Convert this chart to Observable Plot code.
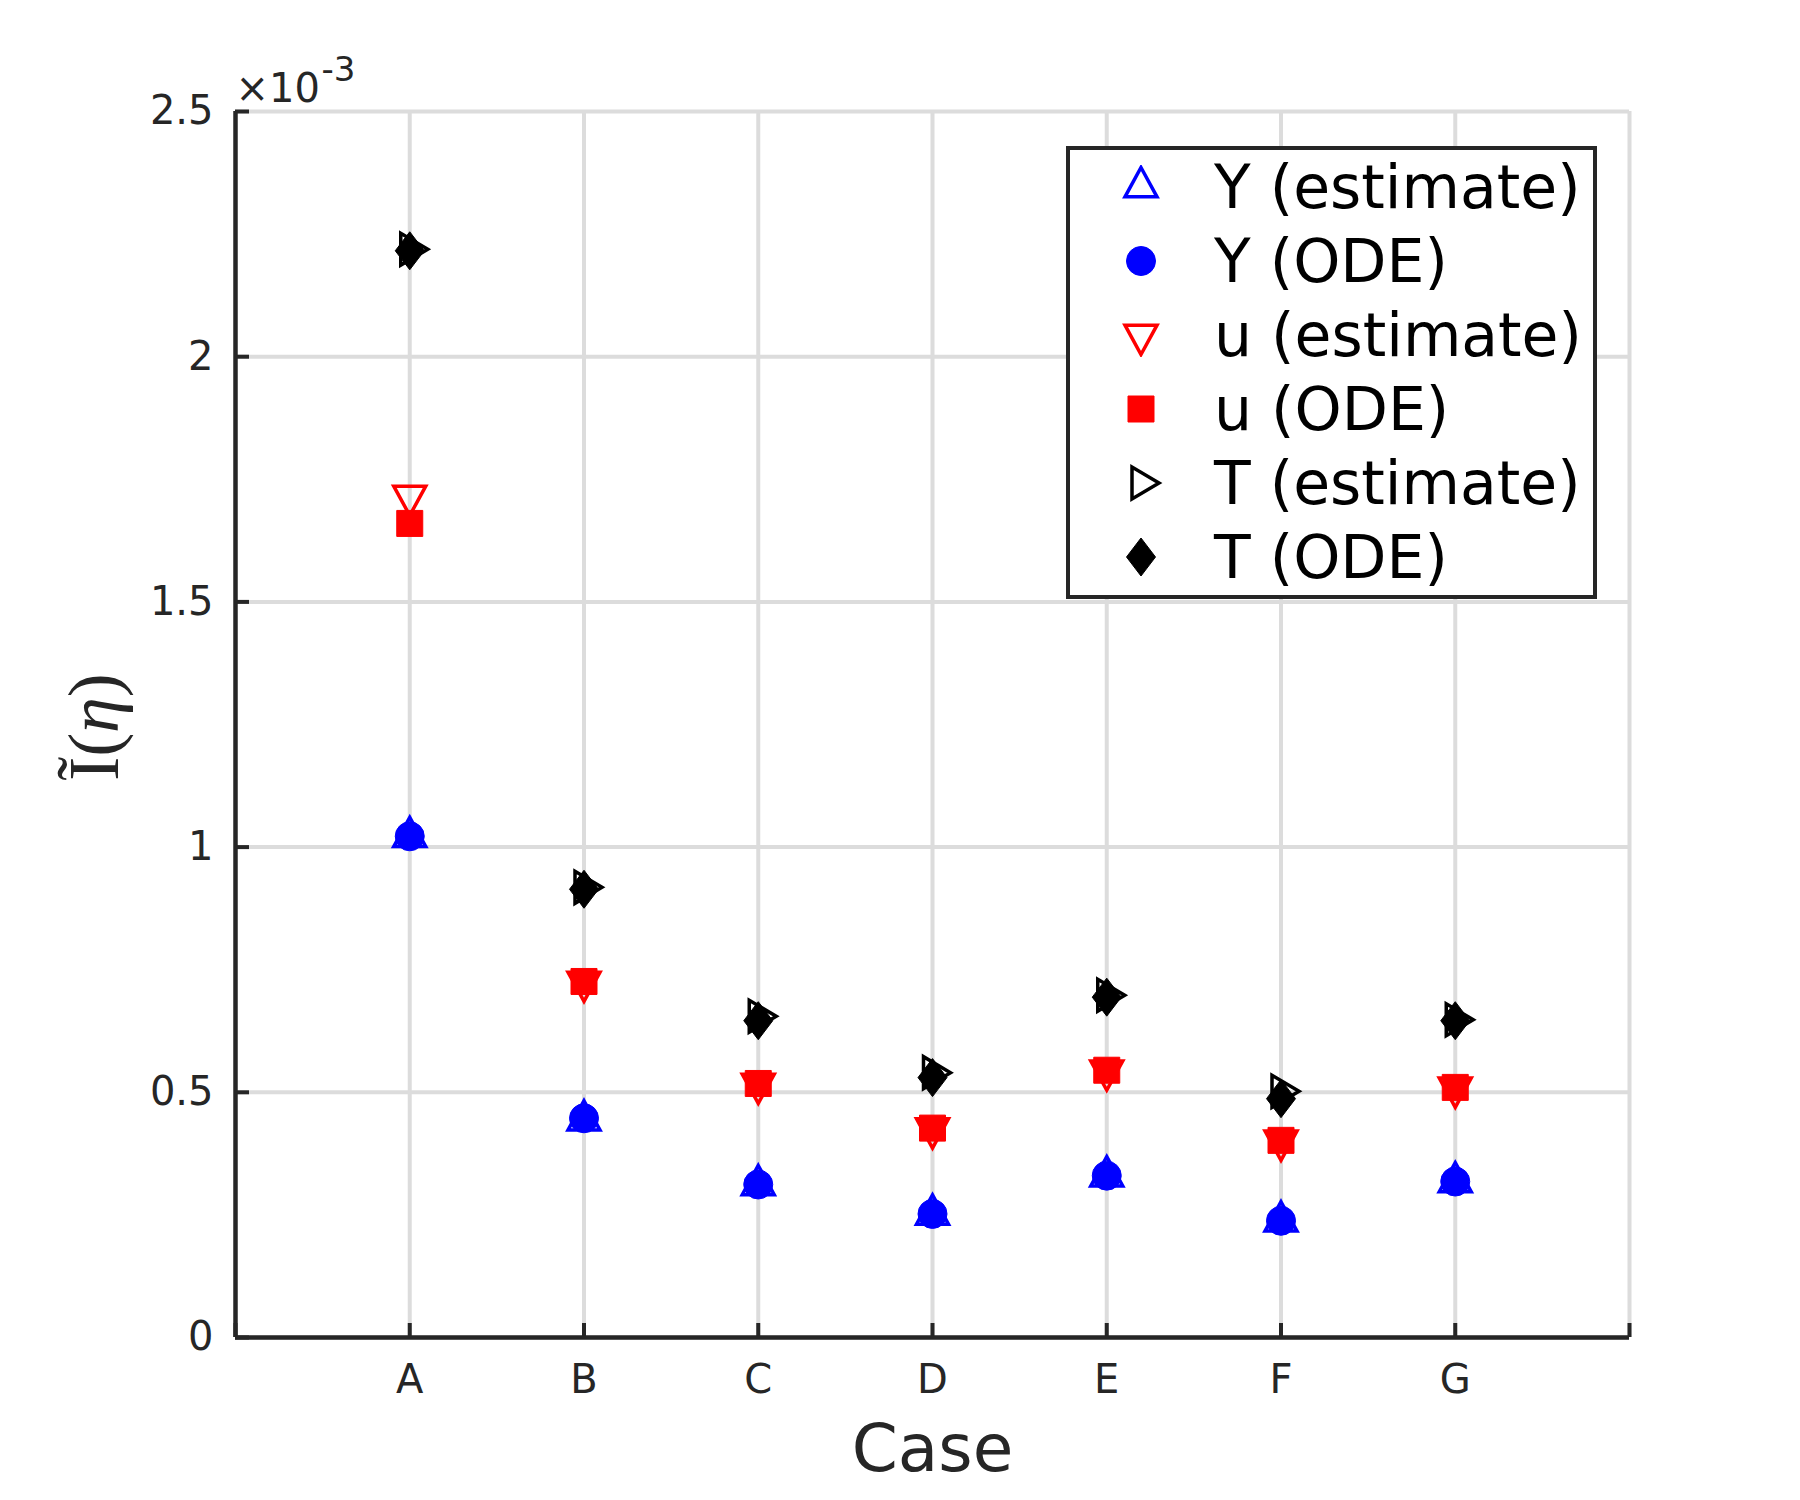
<!DOCTYPE html>
<html>
<head>
<meta charset="utf-8">
<script src="https://cdn.jsdelivr.net/npm/d3@7"></script>
<script src="https://cdn.jsdelivr.net/npm/@observablehq/plot@0.6"></script>
<style>
  html, body { margin: 0; padding: 0; background: #ffffff; }
  #wrap { position: relative; width: 1800px; height: 1500px; font-family: "DejaVu Sans", sans-serif; }
  #ylab { position: absolute; left: 94px; top: 727px; transform: translate(-50%, -50%) rotate(-90deg);
          font-family: "Liberation Serif", "DejaVu Serif", serif; font-size: 72px; color: #262626; white-space: nowrap; }
  #legend { position: absolute; left: 1066px; top: 146px; width: 531px; height: 453px; box-sizing: border-box;
            border: 4px solid #262626; background: #ffffff; }
  .lrow { position: absolute; left: 0; height: 74px; width: 100%; }
  .lrow svg { position: absolute; left: 49px; top: 15px; }
  .lrow span { position: absolute; left: 144px; top: 0; line-height: 74px; font-size: 60px; color: #000; white-space: nowrap; }
</style>
</head>
<body>
<div id="wrap"></div>
<script>
// ---- data (values in units of 1e-3) ----
const cases = ["A", "B", "C", "D", "E", "F", "G"];
const xTickLabels = ["", "A", "B", "C", "D", "E", "F", "G", ""];
const yTicks = [0, 0.5, 1, 1.5, 2, 2.5];
const seriesNames = ["Y (estimate)", "Y (ODE)", "u (estimate)", "u (ODE)", "T (estimate)", "T (ODE)"];
const Y_est = [1.021, 0.443, 0.311, 0.251, 0.329, 0.237, 0.317];
const Y_ode = [1.022, 0.447, 0.312, 0.252, 0.330, 0.238, 0.318];
const u_est = [1.716, 0.725, 0.517, 0.426, 0.544, 0.401, 0.509];
const u_ode = [1.660, 0.726, 0.518, 0.427, 0.545, 0.402, 0.510];
const T_est = [2.219, 0.918, 0.655, 0.540, 0.698, 0.502, 0.648];
const T_ode = [2.216, 0.914, 0.646, 0.530, 0.694, 0.487, 0.646];

// ---- marker shapes (centred on their centroid, like MATLAB's triangles) ----
function poly(pts) {
  return { draw(ctx) { ctx.moveTo(pts[0][0], pts[0][1]); for (let i = 1; i < pts.length; i++) ctx.lineTo(pts[i][0], pts[i][1]); ctx.closePath(); } };
}
const triUp = poly([[0, -19.5], [16, 9.8], [-16, 9.8]]);
const triDown = poly([[0, 19.5], [16, -9.8], [-16, -9.8]]);
const triRight = poly([[18, 0], [-9, -16], [-9, 16]]);
const diamond = poly([[0, -19], [14.5, 0], [0, 19], [-14.5, 0]]);
const square = poly([[-13, -13], [13, -13], [13, 13], [-13, 13]]);
const circle = { draw(ctx) { ctx.moveTo(14.5, 0); ctx.arc(0, 0, 14.5, 0, 2 * Math.PI); ctx.closePath(); } };

const styles = [
  { sym: triUp, fill: "none", stroke: "#0000ff", sw: 3.5 },
  { sym: circle, fill: "#0000ff", stroke: "#0000ff", sw: 1 },
  { sym: triDown, fill: "none", stroke: "#ff0000", sw: 3.5 },
  { sym: square, fill: "#ff0000", stroke: "#ff0000", sw: 1 },
  { sym: triRight, fill: "none", stroke: "#000000", sw: 3.5 },
  { sym: diamond, fill: "#000000", stroke: "#000000", sw: 1 }
];
const seriesVals = [Y_est, Y_ode, u_est, u_ode, T_est, T_ode];

const rows = (vals) => vals.map((v, i) => ({ x: i + 1, y: v, c: cases[i] }));

const axisColor = "#262626";
const gridColor = "#dcdcdc";

const chart = Plot.plot({
  width: 1800,
  height: 1500,
  marginLeft: 235,
  marginRight: 171,
  marginTop: 111,
  marginBottom: 163,
  x: { domain: [0, 8] },
  y: { domain: [0, 2.5] },
  style: { fontFamily: "DejaVu Sans, sans-serif", fontSize: "40px", color: axisColor, background: "#ffffff" },
  marks: [
    Plot.gridY(yTicks, { stroke: gridColor, strokeOpacity: 1, strokeWidth: 4 }),
    Plot.gridX(d3.range(1, xTickLabels.length), { stroke: gridColor, strokeOpacity: 1, strokeWidth: 4 }),
    Plot.axisY(yTicks, { tickSize: -14, tickPadding: 36, strokeWidth: 4, stroke: axisColor, tickFormat: d => String(d), label: null }),
    Plot.axisX(d3.range(0, xTickLabels.length), { tickSize: -14, tickPadding: 41, strokeWidth: 4, stroke: axisColor, tickFormat: d => xTickLabels[d], label: null }),
    Plot.ruleX([0], { stroke: axisColor, strokeWidth: 4.5 }),
    Plot.ruleY([0], { stroke: axisColor, strokeWidth: 4.5 }),
    Plot.text(["Case"], { frameAnchor: "bottom", dy: 112, fontSize: 66, fill: axisColor, lineAnchor: "middle" }),
    Plot.text(["×10"], { frameAnchor: "top-left", dx: 0, dy: -10, fontSize: 40, fill: axisColor, textAnchor: "start", lineAnchor: "bottom" }),
    Plot.text(["-3"], { frameAnchor: "top-left", dx: 86, dy: -31, fontSize: 34, fill: axisColor, textAnchor: "start", lineAnchor: "bottom" }),
    ...seriesVals.map((vals, k) => Plot.dot(rows(vals), {
      x: "x", y: "y", symbol: styles[k].sym, r: 14,
      fill: styles[k].fill, stroke: styles[k].stroke, strokeWidth: styles[k].sw
    }))
  ]
});

const wrap = document.getElementById("wrap");
wrap.appendChild(chart);

// y label
const ylab = document.createElement("div");
ylab.id = "ylab";
ylab.innerHTML = 'Ĩ(<i>η</i>)';
wrap.appendChild(ylab);

// legend
const legend = document.createElement("div");
legend.id = "legend";
seriesNames.forEach((name, k) => {
  const row = document.createElement("div");
  row.className = "lrow";
  row.style.top = (k * 74) + "px";
  const p = d3.path();
  styles[k].sym.draw(p);
  row.innerHTML = `<svg width="44" height="44" viewBox="-22 -22 44 44"><path d="${p.toString()}" fill="${styles[k].fill}" stroke="${styles[k].stroke}" stroke-width="${styles[k].sw}"/></svg><span>${name}</span>`;
  legend.appendChild(row);
});
wrap.appendChild(legend);
</script>
</body>
</html>
